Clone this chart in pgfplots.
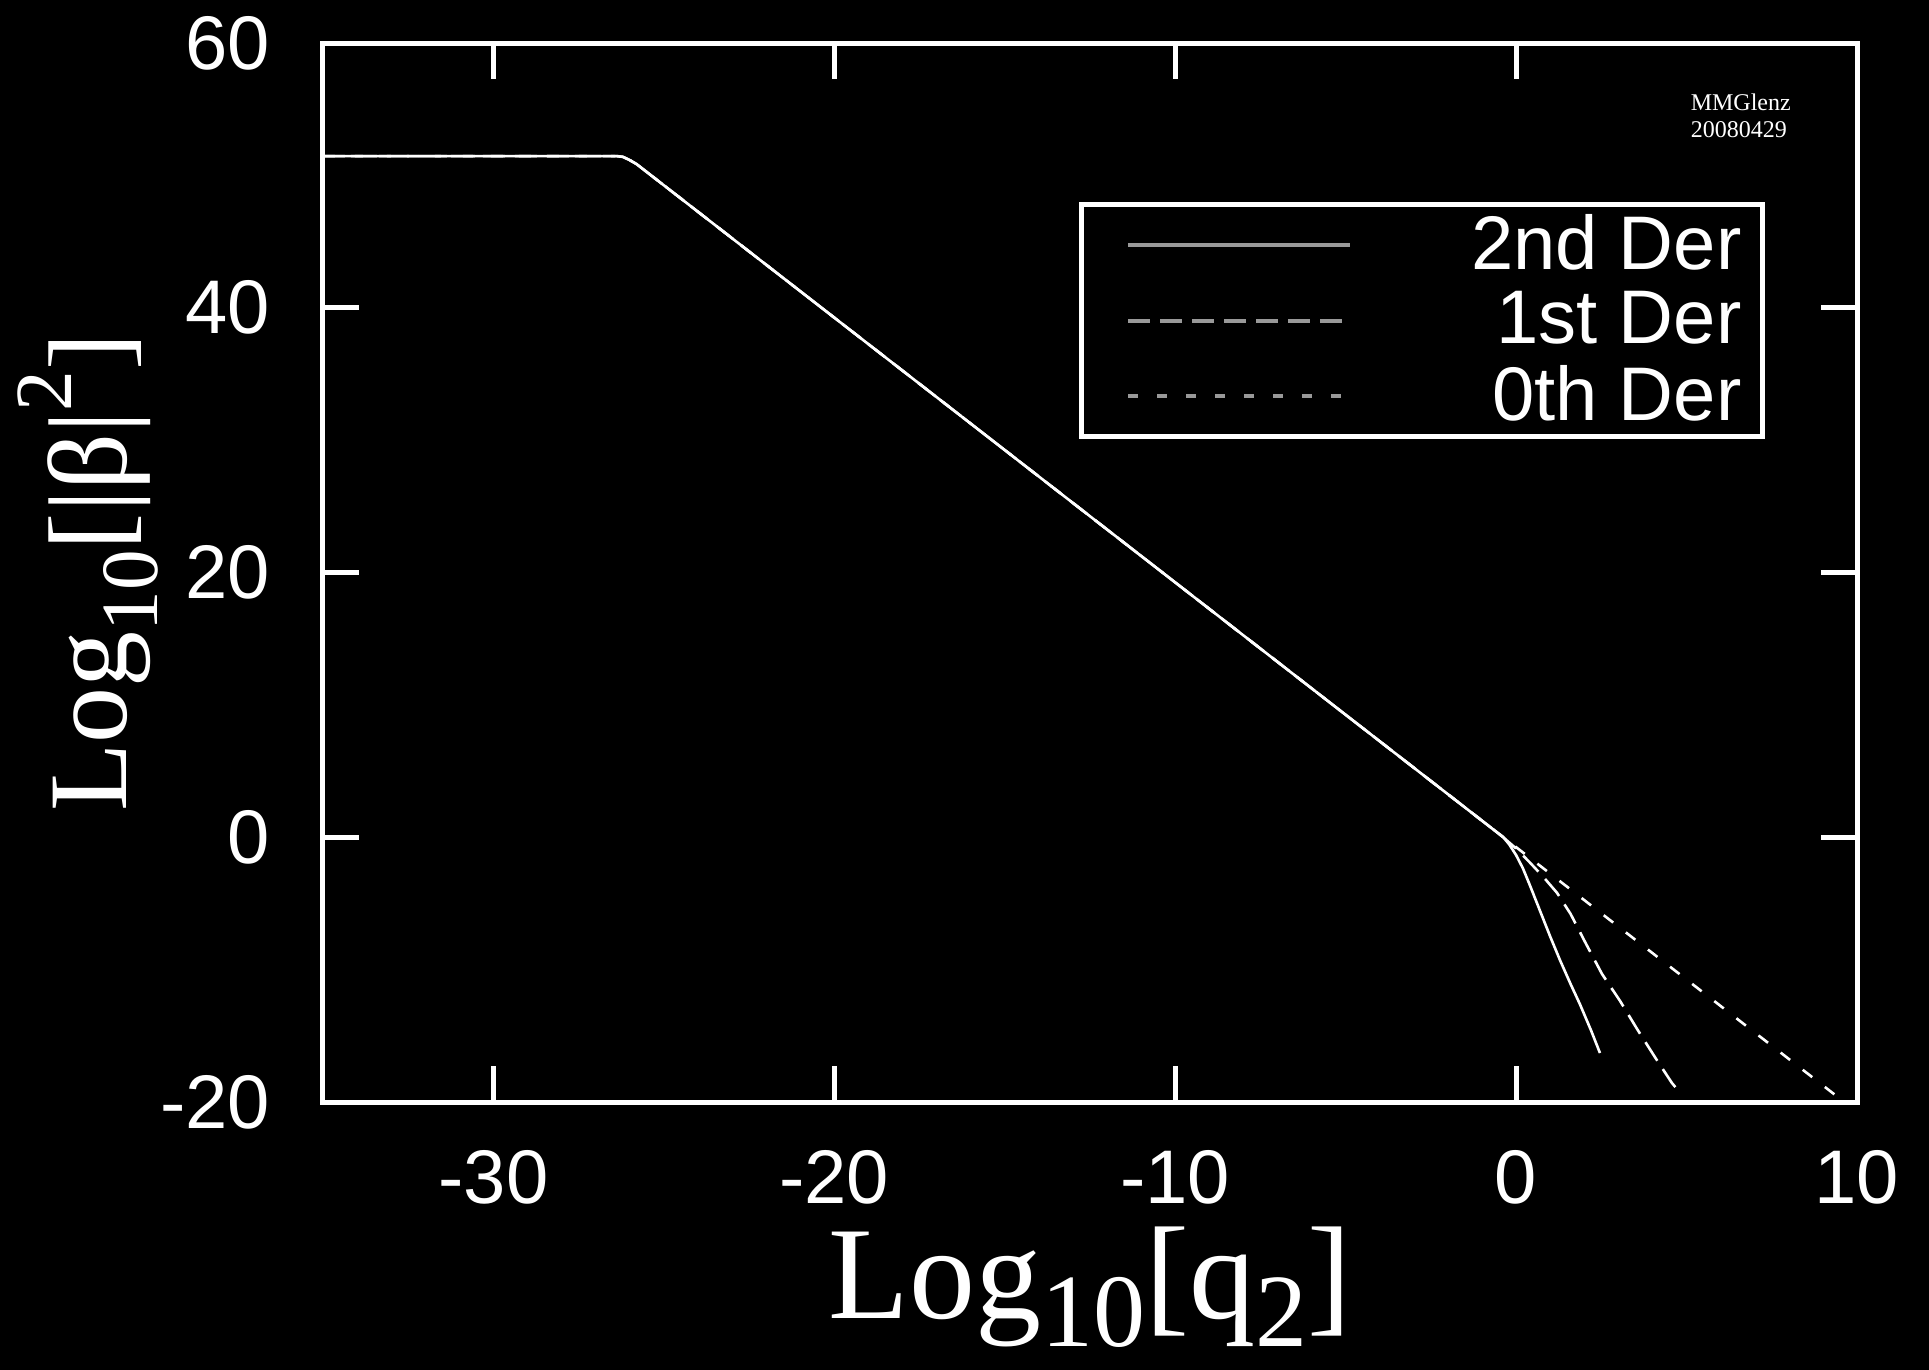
\documentclass[border=0pt]{standalone}
\usepackage{fontspec}
\setmainfont{Liberation Serif}
\newfontfamily\arial{Liberation Sans}
\usepackage{pgfplots}
\pgfplotsset{compat=1.18}
\definecolor{lg}{gray}{0.6}
\begin{document}
\begin{tikzpicture}
\path[fill=black, use as bounding box] (-80.75pt,-67pt) rectangle (401.5pt,275.5pt);
\begin{axis}[
  at={(0pt,0pt)}, anchor=south west,
  width=383.5pt, height=264.75pt, scale only axis,
  xmin=-35, xmax=10, ymin=-20, ymax=60,
  xtick={-30,-20,-10,0,10}, xticklabels={-30,-20,-10,0,10},
  ytick={-20,0,20,40,60}, yticklabels={-20,0,20,40,60},
  minor tick num=0,
  tick align=inside, major tick length=9pt,
  axis line style={white, line width=1.25pt},
  major tick style={white, line width=1.25pt},
  ticklabel style={font=\arial\fontsize{19}{22}\selectfont, text=white, inner sep=0pt},
  xticklabel style={yshift=-12pt},
  yticklabel style={xshift=-13pt},
  xlabel={\fontsize{33}{36}\selectfont Log\raisebox{-7pt}{\fontsize{26}{26}\selectfont 10}[q\raisebox{-7pt}{\fontsize{26}{26}\selectfont 2}]},
  xlabel style={at={(axis description cs:0.5,-0.2040)}, anchor=base, text=white, inner sep=0pt},
  ylabel={\fontsize{28}{30}\selectfont Log\raisebox{-7.75pt}{\fontsize{20.3}{22}\selectfont 10}[|β|\raisebox{13.75pt}{\fontsize{20.3}{22}\selectfont 2}]},
  ylabel style={at={(axis description cs:-0.12777,0.5)}, anchor=base, text=white, inner sep=0pt},
  legend style={at={(axis description cs:0.4928,0.8495)}, anchor=north west,
    draw=white, line width=1.25pt, fill=black, text=white,
    font=\arial\fontsize{19}{22}\selectfont,
    inner xsep=5.25pt, inner ysep=2.5pt, row sep=3.9pt, column sep=0pt,
    nodes={inner sep=0pt}},
  legend image code/.code={\path (0pt,0pt); \draw[#1] (6pt,0pt) -- (61.5pt,0pt);},
]
% 2nd Der
\addplot[white, line width=0.65pt, forget plot] coordinates {
(-35,51.46) (-26.4,51.46) (-26.2,51.40) (-26.0,51.15) (-25.8,50.85)
(-20,39.25) (-10,19.25) (-2,3.25) (-1,1.25) (-0.6,0.45) (-0.38,0.02)
(-0.2,-0.55) (0,-1.35) (0.2,-2.35) (0.4,-3.6) (0.6,-4.9) (0.8,-6.2) (1.0,-7.5)
(1.29,-9.3) (1.6,-11.1) (1.87,-12.6) (2.2,-14.6) (2.46,-16.3)};
% 1st Der
\addplot[white, line width=0.65pt, dash pattern=on 5.5pt off 2.5pt, forget plot] coordinates {
(-35,51.46) (-26.4,51.46) (-26.2,51.40) (-26.0,51.15) (-25.8,50.85)
(-20,39.25) (-10,19.25) (-2,3.25) (-1,1.25) (-0.6,0.45) (-0.38,0.0)
(0,-0.85) (0.4,-1.9) (0.8,-3.0) (1.2,-4.2) (1.6,-5.8) (2.02,-7.9) (2.52,-10.33)
(3.05,-12.37) (3.55,-14.49) (4.07,-16.6) (4.57,-18.56) (4.81,-19.3)};
% 0th Der
\addplot[white, line width=0.65pt, dash pattern=on 3pt off 4pt, forget plot] coordinates {
(-35,51.46) (-26.4,51.46) (-26.2,51.40) (-26.0,51.15) (-25.8,50.85)
(-20,39.25) (-10,19.25) (-2,3.25) (-1,1.25) (0,-0.75) (5,-10.75) (9.56,-19.87)};
\addlegendimage{lg, line width=1pt}
\addlegendentry{\makebox[97.25pt][r]{2nd Der}}
\addlegendimage{lg, line width=1pt, dash pattern=on 5.5pt off 2.5pt}
\addlegendentry{\makebox[97.25pt][r]{1st Der}}
\addlegendimage{lg, line width=1pt, dash pattern=on 2.5pt off 4.75pt}
\addlegendentry{\makebox[97.25pt][r]{0th Der}}
\node[anchor=north west, inner sep=0pt, align=left, text=white, font=\fontsize{6}{6.75}\selectfont]
  at (axis description cs:0.8911,0.9528) {MMGlenz\\20080429};
\end{axis}
\end{tikzpicture}
\end{document}
